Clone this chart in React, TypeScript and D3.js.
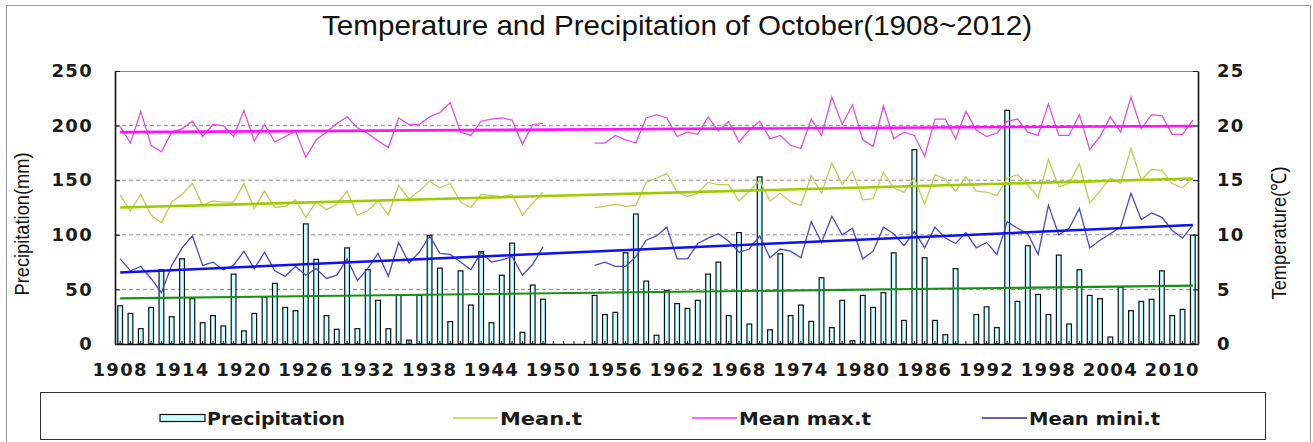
import React, { useEffect, useRef } from 'react';
import * as d3 from 'd3';

const years = d3.range(1908, 2013);
const tickYears = [1908, 1914, 1920, 1926, 1932, 1938, 1944, 1950, 1956, 1962, 1968, 1974, 1980, 1986, 1992, 1998, 2004, 2010];
const precipTicks = [0, 50, 100, 150, 200, 250];
const tempTicks = [0, 5, 10, 15, 20, 25];

// October precipitation (mm); null = no record 1950-1953
const precipitation = [
  35, 28, 14, 33.5, 68, 25, 78, 41.5, 19.5, 26,
  16.5, 64, 12, 28, 43, 55.5, 33.5, 30.5, 110, 77.5,
  26, 13.5, 88, 14, 68, 40, 14, 44.5, 3.5, 44.5,
  99.5, 69.5, 20.5, 67, 35.7, 84.5, 19.5, 63, 92.4, 10.7,
  54, 41, null, null, null, null, 44.5, 27, 29, 83.5,
  119, 57.6, 8, 49, 37, 32.6, 40, 64, 75, 26,
  102, 18.3, 153, 13, 82.6, 26, 35.7, 20.7, 60.7, 15,
  40, 3, 44.5, 33.5, 47, 83.5, 21.6, 178, 79, 21.6,
  8.5, 69, 0, 27, 34, 15, 214, 39, 90, 45.4,
  27, 81.4, 18.3, 68, 44.5, 41.5, 6.4, 52, 30.5, 39,
  41, 67, 26, 31.7, 99.7,
];

// temperatures (°C)
const meanT = [
  13.6, 12.2, 13.7, 11.8, 11.1, 13.0, 13.7, 14.7, 12.7, 13.1,
  13.0, 13.0, 14.7, 12.4, 14.0, 12.5, 12.6, 13.2, 11.6, 13.0,
  12.3, 12.8, 14.0, 11.8, 12.2, 13.1, 11.8, 14.5, 13.3, 14.0,
  14.9, 14.3, 14.7, 13.0, 12.5, 13.7, 13.6, 13.5, 13.7, 11.8,
  12.9, 13.9, null, null, null, null, 12.5, 12.6, 12.8, 12.6,
  12.7, 14.8, 15.2, 15.6, 13.9, 13.5, 13.8, 14.8, 14.6, 14.6,
  13.1, 14.0, 15.0, 13.1, 13.8, 13.0, 12.7, 15.4, 13.8, 16.6,
  14.6, 15.8, 13.2, 13.3, 15.7, 14.3, 13.9, 15.2, 12.8, 15.5,
  15.1, 14.0, 15.3, 14.0, 13.9, 13.6, 15.2, 15.5, 14.6, 13.4,
  16.9, 14.4, 14.7, 16.5, 12.9, 14.0, 15.2, 14.7, 17.9, 15.0,
  16.0, 15.9, 14.7, 14.3, 15.2,
];

const meanMaxT = [
  19.9, 18.4, 21.3, 18.2, 17.6, 19.4, 19.7, 20.4, 19.0, 20.1,
  20.0, 19.0, 21.4, 18.6, 20.1, 18.5, 19.0, 19.5, 17.1, 18.7,
  19.4, 20.2, 20.8, 19.8, 19.3, 18.6, 18.0, 20.7, 20.1, 20.1,
  20.8, 21.2, 22.1, 19.4, 19.1, 20.4, 20.6, 20.7, 20.5, 18.3,
  20.1, 20.2, null, null, null, null, 18.4, 18.4, 19.1, 18.7,
  18.4, 20.7, 21.0, 20.7, 19.0, 19.4, 19.2, 20.8, 19.5, 20.4,
  18.5, 19.6, 20.4, 18.8, 19.1, 18.2, 17.9, 20.6, 19.1, 22.6,
  20.1, 21.9, 18.7, 18.1, 21.8, 18.8, 19.4, 19.1, 17.2, 20.6,
  20.6, 18.8, 21.3, 19.6, 19.0, 19.3, 20.4, 20.6, 19.4, 19.1,
  22.0, 19.1, 19.1, 21.0, 17.8, 19.0, 20.8, 19.4, 22.6, 19.7,
  21.0, 20.9, 19.2, 19.2, 20.5,
];

const meanMinT = [
  7.8, 6.7, 7.1, 6.0, 4.7, 7.2, 8.8, 9.9, 7.2, 7.5,
  6.8, 7.2, 8.5, 6.9, 8.4, 6.7, 6.2, 7.1, 6.3, 6.9,
  6.0, 6.3, 7.8, 5.8, 6.9, 8.3, 6.2, 9.3, 7.4, 8.4,
  9.9, 8.3, 8.2, 7.5, 6.8, 8.4, 7.5, 7.7, 8.0, 6.3,
  7.3, 8.9, null, null, null, null, 7.2, 7.5, 7.1, 7.1,
  8.0, 9.5, 9.9, 10.7, 7.8, 7.8, 9.2, 9.7, 10.1, 9.4,
  8.4, 8.7, 9.9, 7.9, 8.7, 8.5, 7.9, 11.2, 9.3, 11.7,
  10.0, 10.6, 7.8, 8.5, 10.7, 10.1, 9.0, 10.3, 8.8, 10.7,
  9.7, 9.2, 10.2, 8.8, 9.3, 8.2, 11.2, 10.6, 10.1, 8.2,
  12.7, 10.0, 10.6, 12.4, 8.8, 9.5, 10.1, 10.7, 13.8, 11.4,
  12.0, 11.6, 10.4, 9.7, 10.9,
];

// linear trends, value at 1908 and at 2012
const precipTrend = [41.8, 53.4];
const meanTrend = [12.5, 15.15];
const maxTrend = [19.4, 19.97];
const minTrend = [6.55, 10.9];

const FONT = 'DejaVu Sans, Verdana, sans-serif';
const NARROW = 'Liberation Sans Narrow, Liberation Sans, Arial, sans-serif';

function App() {
  const svgRef = useRef<SVGSVGElement>(null);

  useEffect(() => {
    const svg = d3.select(svgRef.current);
    svg.selectAll('*').remove();

    const plot = { left: 115, right: 1198, top: 71, bottom: 344 };

    const x = d3.scaleBand<number>().domain(years).range([plot.left, plot.right]);
    const cx = (yr: number) => (x(yr) as number) + x.bandwidth() / 2;
    const yP = d3.scaleLinear().domain([0, 250]).range([plot.bottom, plot.top]);
    const yT = d3.scaleLinear().domain([0, 25]).range([plot.bottom, plot.top]);

    // outer frame
    svg.append('rect')
      .attr('x', 6.5).attr('y', 5.5).attr('width', 1304).attr('height', 450)
      .attr('fill', 'none').attr('stroke', '#9c9c9c');

    // title
    svg.append('text')
      .attr('x', 677).attr('y', 35)
      .attr('text-anchor', 'middle')
      .attr('font-family', NARROW).attr('font-size', 28)
      .attr('textLength', 710).attr('lengthAdjust', 'spacingAndGlyphs')
      .attr('fill', '#111')
      .text('Temperature and Precipitation of October(1908~2012)');

    // grid
    svg.append('g').selectAll('line').data([50, 100, 150, 200]).join('line')
      .attr('x1', plot.left).attr('x2', plot.right)
      .attr('y1', d => yP(d)).attr('y2', d => yP(d))
      .attr('stroke', '#8c8c8c').attr('stroke-dasharray', '4,3');
    svg.append('line')
      .attr('x1', plot.left).attr('x2', plot.right)
      .attr('y1', plot.top + 0.5).attr('y2', plot.top + 0.5)
      .attr('stroke', '#8c8c8c');

    // precipitation bars
    const barW = x.bandwidth() * 0.46;
    const bars = years
      .map((yr, i) => ({ yr, v: precipitation[i] }))
      .filter(d => d.v != null && d.v > 0) as { yr: number; v: number }[];
    svg.append('g').selectAll('rect').data(bars).join('rect')
      .attr('x', d => cx(d.yr) - barW / 2)
      .attr('y', d => yP(d.v))
      .attr('width', barW)
      .attr('height', d => yP(0) - yP(d.v))
      .attr('fill', '#ccffff').attr('stroke', '#111').attr('stroke-width', 1.2);

    // temperature series
    const tLine = d3.line<number | null>()
      .defined(d => d != null)
      .x((d, i) => cx(years[i]))
      .y(d => yT(d as number));

    const series = [
      { data: meanT, color: '#bccf55' },
      { data: meanMaxT, color: '#e050e0' },
      { data: meanMinT, color: '#4a4ac0' },
    ];
    series.forEach(s => {
      svg.append('path')
        .datum(s.data)
        .attr('fill', 'none')
        .attr('stroke', s.color)
        .attr('stroke-width', 1.3)
        .attr('d', tLine);
    });

    // trend lines
    const first = years[0];
    const last = years[years.length - 1];
    const trends = [
      { t: precipTrend, scale: yP, color: '#169016', w: 2.2 },
      { t: meanTrend, scale: yT, color: '#9fcc00', w: 2.6 },
      { t: maxTrend, scale: yT, color: '#ff10ff', w: 2.6 },
      { t: minTrend, scale: yT, color: '#1010f0', w: 2.6 },
    ];
    trends.forEach(tr => {
      svg.append('line')
        .attr('x1', cx(first)).attr('x2', cx(last))
        .attr('y1', tr.scale(tr.t[0])).attr('y2', tr.scale(tr.t[1]))
        .attr('stroke', tr.color).attr('stroke-width', tr.w);
    });

    // axes
    const styleAxis = (g: d3.Selection<SVGGElement, unknown, null, undefined>) => {
      g.attr('font-family', FONT).attr('font-size', 18).attr('font-weight', 'bold');
      g.select('.domain').attr('stroke', '#111').attr('stroke-width', 1.6);
      g.selectAll('.tick line').attr('stroke', '#111');
      g.selectAll('.tick text').attr('fill', '#1a1a1a').attr('letter-spacing', 1.3);
    };

    svg.append('g')
      .attr('transform', `translate(${plot.left},0)`)
      .call(d3.axisLeft(yP).tickValues(precipTicks).tickSizeInner(-5).tickSizeOuter(0).tickPadding(22))
      .call(styleAxis);

    svg.append('g')
      .attr('transform', `translate(${plot.right},0)`)
      .call(d3.axisRight(yT).tickValues(tempTicks).tickSizeInner(-5).tickSizeOuter(0).tickPadding(19))
      .call(styleAxis);

    svg.append('g')
      .attr('transform', `translate(0,${plot.bottom})`)
      .call(d3.axisBottom(x).tickValues(years).tickSizeInner(-3).tickSizeOuter(0).tickFormat(() => ''))
      .call(styleAxis);

    const xLabels = svg.append('g')
      .attr('transform', `translate(0,${plot.bottom})`)
      .call(d3.axisBottom(x).tickValues(tickYears).tickSize(0).tickPadding(19).tickFormat(d => String(d)))
      .call(styleAxis);
    xLabels.select('.domain').remove();

    // axis titles
    svg.append('text')
      .attr('transform', 'translate(29,224) rotate(-90)')
      .attr('text-anchor', 'middle')
      .attr('font-family', NARROW).attr('font-size', 21)
      .attr('textLength', 143).attr('lengthAdjust', 'spacingAndGlyphs')
      .attr('fill', '#111')
      .text('Precipitation(mm)');
    svg.append('text')
      .attr('transform', 'translate(1286,233) rotate(-90)')
      .attr('text-anchor', 'middle')
      .attr('font-family', NARROW).attr('font-size', 21)
      .attr('textLength', 133).attr('lengthAdjust', 'spacingAndGlyphs')
      .attr('fill', '#111')
      .text('Temperature(℃)');

    // legend
    svg.append('rect')
      .attr('x', 40.5).attr('y', 392.5).attr('width', 1225).attr('height', 47)
      .attr('fill', '#fff').attr('stroke', '#333');

    const legendY = 418;
    const legend = [
      { label: 'Precipitation', kind: 'bar', color: '#ccffff', x0: 160, len: 138 },
      { label: 'Mean.t', kind: 'line', color: '#b8d040', x0: 453, len: 82 },
      { label: 'Mean max.t', kind: 'line', color: '#ff30ff', x0: 692, len: 132 },
      { label: 'Mean mini.t', kind: 'line', color: '#2a2aa8', x0: 982, len: 131 },
    ];
    legend.forEach(item => {
      if (item.kind === 'bar') {
        svg.append('rect')
          .attr('x', item.x0).attr('y', legendY - 3.5).attr('width', 45).attr('height', 7)
          .attr('fill', item.color).attr('stroke', '#111').attr('stroke-width', 1.2);
      } else {
        svg.append('line')
          .attr('x1', item.x0).attr('x2', item.x0 + 45)
          .attr('y1', legendY).attr('y2', legendY)
          .attr('stroke', item.color).attr('stroke-width', 1.3);
      }
      svg.append('text')
        .attr('x', item.x0 + 47).attr('y', legendY + 6.5)
        .attr('font-family', FONT).attr('font-size', 18).attr('font-weight', 'bold')
        .attr('textLength', item.len).attr('lengthAdjust', 'spacingAndGlyphs')
        .attr('fill', '#1a1a1a')
        .text(item.label);
    });
  }, []);

  return (
    <svg
      ref={svgRef}
      width={1313}
      height={442}
      style={{ position: 'absolute', left: 0, top: 0, background: '#fff' }}
    />
  );
}

export default App;
